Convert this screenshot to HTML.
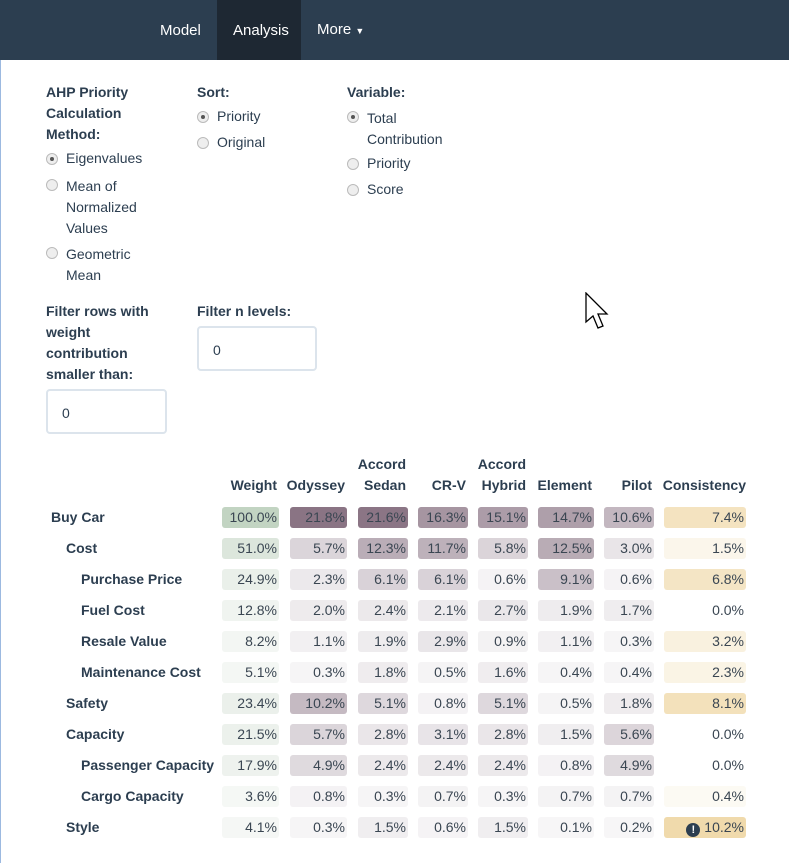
<!DOCTYPE html>
<html><head><meta charset="utf-8">
<style>
*{box-sizing:border-box;margin:0;padding:0}
body{width:789px;height:863px;overflow:hidden;background:#fff;font-family:"Liberation Sans",sans-serif;color:#2c3e50;position:relative;font-size:14px}
.a{position:absolute;white-space:nowrap}
.nav{position:absolute;left:0;top:0;width:789px;height:60px;background:#2c3e50}
.nav span{position:absolute;top:22px;color:#fff;font-size:15px}
.b{font-weight:bold}
.radio{position:absolute;width:12px;height:12px;border-radius:50%;border:1px solid #bbb;background:#eee}
.radio.on::after{content:"";position:absolute;left:3px;top:3px;width:4px;height:4px;border-radius:50%;background:#555}
.inp{position:absolute;border:2px solid #dce4ec;border-radius:4px;padding:14px 0 0 14px;font-size:14px}
.cell{position:absolute;height:21px;border-radius:3px;text-align:right;padding-right:2px;line-height:21px;font-size:14px;color:#3a4652}
.hd{position:absolute;font-weight:bold;text-align:right;line-height:21px}
</style></head><body>
<div class="a" style="left:0;top:60px;width:1px;height:803px;background:#9cb9e0"></div>
<div class="nav">
 <span style="left:160px">Model</span>
 <div style="position:absolute;left:217px;top:0;width:84px;height:60px;background:#1e2833"></div>
 <span style="left:233px">Analysis</span>
 <span style="left:317px;top:21px">More <small style="font-size:9px">▼</small></span>
</div>

<div class="a b" style="left:46px;top:82px;line-height:21px">AHP Priority<br>Calculation<br>Method:</div>
<div class="radio on" style="left:46px;top:153px"></div>
<div class="a" style="left:66px;top:150px">Eigenvalues</div>
<div class="radio" style="left:46px;top:179px"></div>
<div class="a" style="left:66px;top:176px;line-height:21px">Mean of<br>Normalized<br>Values</div>
<div class="radio" style="left:46px;top:247px"></div>
<div class="a" style="left:66px;top:244px;line-height:21px">Geometric<br>Mean</div>

<div class="a b" style="left:197px;top:82px;line-height:21px">Sort:</div>
<div class="radio on" style="left:197px;top:111px"></div>
<div class="a" style="left:217px;top:108px">Priority</div>
<div class="radio" style="left:197px;top:137px"></div>
<div class="a" style="left:217px;top:134px">Original</div>

<div class="a b" style="left:347px;top:82px;line-height:21px">Variable:</div>
<div class="radio on" style="left:347px;top:111px"></div>
<div class="a" style="left:367px;top:108px;line-height:21px">Total<br>Contribution</div>
<div class="radio" style="left:347px;top:158px"></div>
<div class="a" style="left:367px;top:155px">Priority</div>
<div class="radio" style="left:347px;top:184px"></div>
<div class="a" style="left:367px;top:181px">Score</div>

<div class="a b" style="left:46px;top:301px;line-height:21px">Filter rows with<br>weight<br>contribution<br>smaller than:</div>
<div class="inp" style="left:46px;top:389px;width:121px;height:45px">0</div>
<div class="a b" style="left:197px;top:301px;line-height:21px">Filter n levels:</div>
<div class="inp" style="left:197px;top:326px;width:120px;height:45px">0</div>

<svg class="a" style="left:584px;top:292px" width="28" height="40"><path d="M2 1 L2 30 L9 24 L14 36 L19 34 L14 22 L23 22 Z" fill="#fff" stroke="#000" stroke-width="1.3"/></svg>

<div id="tbl"></div>
<script>
const columns=["Weight","Odyssey","Accord Sedan","CR-V","Accord Hybrid","Element","Pilot","Consistency"];
const rowLabels=["Buy Car","Cost","Purchase Price","Fuel Cost","Resale Value","Maintenance Cost","Safety","Capacity","Passenger Capacity","Cargo Capacity","Style"];
const rowLevels=[0,1,2,2,2,2,1,1,2,2,1];
const weightVals=[100.0,51.0,24.9,12.8,8.2,5.1,23.4,21.5,17.9,3.6,4.1];
const odysseyVals=[21.8,5.7,2.3,2.0,1.1,0.3,10.2,5.7,4.9,0.8,0.3];
const accordSedanVals=[21.6,12.3,6.1,2.4,1.9,1.8,5.1,2.8,2.4,0.3,1.5];
const crvVals=[16.3,11.7,6.1,2.1,2.9,0.5,0.8,3.1,2.4,0.7,0.6];
const accordHybridVals=[15.1,5.8,0.6,2.7,0.9,1.6,5.1,2.8,2.4,0.3,1.5];
const elementVals=[14.7,12.5,9.1,1.9,1.1,0.4,0.5,1.5,0.8,0.7,0.1];
const pilotVals=[10.6,3.0,0.6,1.7,0.3,0.4,1.8,5.6,4.9,0.7,0.2];
const consistencyVals=[7.4,1.5,6.8,0.0,3.2,2.3,8.1,0.0,0.0,0.4,10.2];
const series=[weightVals,odysseyVals,accordSedanVals,crvVals,accordHybridVals,elementVals,pilotVals,consistencyVals];
const colL=[222,290,358,418,478,538,604,664], colR=[279,347,408,468,528,594,654,746];
const tbl=document.getElementById('tbl');
function mix(c0,c1,t){t=Math.max(0,Math.min(1,t));return 'rgb('+c0.map((v,i)=>Math.round(v+(c1[i]-v)*t)).join(',')+')';}
const yRow=i=>507+i*31;
columns.forEach((c,j)=>{
  const h=document.createElement('div');h.className='hd';
  
  
  const two=c.split(' ');
  if(two.length>1){h.innerHTML=two[0]+'<br>'+two[1];h.style.top='454px';}else{h.textContent=c;h.style.top='475px';}
  h.style.right=(789-colR[j]+(j==7?0:2))+'px';
  tbl.appendChild(h);
});
rowLabels.forEach((r,i)=>{
  const l=document.createElement('div');l.className='a b';
  
  
  l.textContent=r;l.style.left=(51+rowLevels[i]*15)+'px';l.style.top=(yRow(i)+2)+'px';
  tbl.appendChild(l);
  series.forEach((vals,j)=>{
    const v=vals[i];const d=document.createElement('div');d.className='cell';
    
    
    let bg;
    if(j==0)bg=mix([247,249,247],[194,212,194],v/100);
    else if(j==7)bg=v<=0?'transparent':mix([253,251,246],[240,218,172],v/10.2);
    else bg=mix([248,247,248],[138,116,132],v/21.8);
    d.style.background=bg;d.style.left=colL[j]+'px';d.style.width=(colR[j]-colL[j])+'px';d.style.top=yRow(i)+'px';
    let txt=v.toFixed(1)+'%';
    if(j==7&&v>10)txt='<span style="display:inline-block;width:14px;height:14px;border-radius:50%;background:#2c3e50;color:#fff;font-size:11px;line-height:14px;text-align:center;font-weight:bold;vertical-align:-1px;margin-right:4px">!</span>'+txt;
    d.innerHTML=txt;
    tbl.appendChild(d);
  });
});
</script>
</body></html>
